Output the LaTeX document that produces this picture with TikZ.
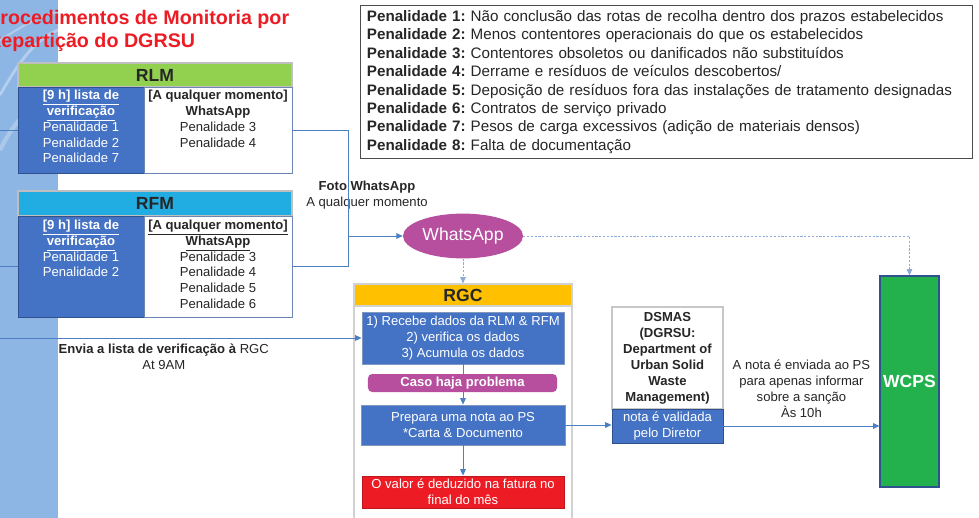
\documentclass[tikz,border=0pt]{standalone}
\usepackage{fontspec}
\setmainfont{Liberation Sans}
\usepackage{tikz}
\usetikzlibrary{positioning, calc, arrows.meta, shapes.geometric}
\frenchspacing

\definecolor{hdrgreen}{RGB}{146,208,80}
\definecolor{hdrcyan}{RGB}{33,172,226}
\definecolor{cellblue}{RGB}{68,114,196}
\definecolor{celledge}{RGB}{47,82,143}
\definecolor{waviolet}{RGB}{183,78,158}
\definecolor{rgcyellow}{RGB}{255,192,0}
\definecolor{valred}{RGB}{237,28,36}
\definecolor{wcpsgreen}{RGB}{34,177,76}
\definecolor{titlered}{RGB}{237,28,36}
\definecolor{linkblue}{RGB}{76,127,196}
\definecolor{stripblue}{RGB}{141,182,228}

\begin{document}
\begin{tikzpicture}[
        x=0.025cm, y=-0.025cm,
        every node/.style={font=\fontsize{9.3}{11.2}\selectfont, inner sep=1pt, text=black!85},
        header/.style={rectangle, draw=black!25, line width=0.8pt, minimum width=6.85cm, font=\bfseries\fontsize{12.5}{14}\selectfont},
        bluecell/.style={rectangle, draw=celledge, fill=cellblue, line width=0.6pt, text=white, align=center},
        whitecell/.style={rectangle, draw=celledge!70, fill=white, line width=0.6pt},
        celltext/.style={align=center},
        proc/.style={rectangle, draw=celledge!60, fill=cellblue, line width=0.6pt, text=white, align=center, minimum width=5.05cm},
        link/.style={draw=linkblue, line width=0.6pt},
        arrow/.style={link, -{Triangle[length=4.5pt, width=4pt]}},
        dotarrow/.style={arrow, draw=linkblue!65, dash pattern=on 1.5pt off 1.2pt}
    ]
        \useasboundingbox (0,0) rectangle (979,518);
        \clip (0,0) rectangle (979,518);

        \fill[stripblue] (0,0) rectangle (58,518);
        \draw[white, opacity=0.35, line width=2pt] (0,95) .. controls (20,60) and (35,40) .. (58,30);
        \draw[white, opacity=0.25, line width=3pt] (0,150) .. controls (15,120) and (30,105) .. (58,95);
        \draw[white, opacity=0.3, line width=1.5pt] (0,40) .. controls (25,25) and (40,15) .. (58,12);

        \node[anchor=north west, align=left, inner sep=0pt, text=titlered, font=\bfseries\fontsize{14}{16.4}\selectfont] (title) at (-13,9.5) {Procedimentos de Monitoria por\\Repartição do DGRSU};

        \node[header, fill=hdrgreen, minimum height=0.6cm] (rlm) at (155,75) {RLM};
        \node[bluecell, minimum width=3.15cm, minimum height=2.15cm] (rlmL) at (81,130) {};
        \node[whitecell, minimum width=3.7cm, minimum height=2.15cm] (rlmR) at (218,130) {};
        \node[celltext, text=white, below=1.5pt of rlmL.north] (rlmLtxt) {\textbf{\underline{[9 h] lista de}}\\\textbf{\underline{verificação}}\\Penalidade 1\\Penalidade 2\\Penalidade 7};
        \node[celltext, below=1.5pt of rlmR.north] (rlmRtxt) {\textbf{[A qualquer momento]}\\\textbf{WhatsApp}\\Penalidade 3\\Penalidade 4};

        \node[header, fill=hdrcyan, minimum height=0.625cm] (rfm) at (155,203.5) {RFM};
        \node[bluecell, minimum width=3.15cm, minimum height=2.525cm] (rfmL) at (81,266.5) {};
        \node[whitecell, minimum width=3.7cm, minimum height=2.525cm] (rfmR) at (218,266.5) {};
        \node[celltext, text=white, below=2pt of rfmL.north] (rfmLtxt) {\textbf{\underline{[9 h] lista de}}\\\textbf{\underline{verificação}}\\Penalidade 1\\Penalidade 2};
        \node[celltext, below=2pt of rfmR.north] (rfmRtxt) {\textbf{\underline{[A qualquer momento]}}\\\textbf{\underline{WhatsApp}}\\Penalidade 3\\Penalidade 4\\Penalidade 5\\Penalidade 6};

        \node[rectangle, draw=black!70, line width=0.7pt, fill=white, minimum width=15.275cm, minimum height=3.8cm, inner xsep=0.15cm, text width=14.975cm, align=left, font=\fontsize{10.8}{13.1}\selectfont] (pen) at (666.5,82) {\textbf{Penalidade 1:} Não conclusão das rotas de recolha dentro dos prazos estabelecidos\\
            \textbf{Penalidade 2:} Menos contentores operacionais do que os estabelecidos\\
            \textbf{Penalidade 3:} Contentores obsoletos ou danificados não substituídos\\
            \textbf{Penalidade 4:} Derrame e resíduos de veículos descobertos/\\
            \textbf{Penalidade 5:} Deposição de resíduos fora das instalações de tratamento designadas\\
            \textbf{Penalidade 6:} Contratos de serviço privado\\
            \textbf{Penalidade 7:} Pesos de carga excessivos (adição de materiais densos)\\
            \textbf{Penalidade 8:} Falta de documentação};

        \node[align=center] (fotolbl) at (367,195) {\textbf{Foto WhatsApp}\\A qualquer momento};
        \node[ellipse, fill=waviolet, minimum width=3cm, minimum height=1.12cm, text=white, font=\fontsize{12.5}{14}\selectfont] (wa) at (463,236) {WhatsApp};

        \node[rectangle, draw=black!18, line width=1pt, fill=white, minimum width=5.45cm, minimum height=5.6cm] (rgc) at (463,418) {};
        \node[header, fill=rgcyellow, draw=black!18, minimum width=5.45cm, minimum height=0.55cm] (rgchd) at (463,295) {RGC};
        \node[proc, minimum height=1.3cm] (recebe) at (463,338) {1) Recebe dados da RLM \& RFM\\2) verifica os dados\\3) Acumula os dados};
        \node[proc, minimum width=5.1cm, minimum height=1cm] (prepara) at (463,425) {Prepara uma nota ao PS\\*Carta \& Documento};
        \node[proc, fill=valred, draw=valred!80!black, minimum height=0.8cm] (valor) at (463,492) {O valor é deduzido na fatura no\\final do mês};
        \draw[arrow] (recebe.south) -- (prepara.north);
        \node[rectangle, rounded corners=3pt, fill=waviolet, minimum width=4.725cm, minimum height=0.45cm, text=white, font=\bfseries\fontsize{9.3}{11.2}\selectfont] (caso) at (462.5,383) {Caso haja problema};
        \draw[arrow] (prepara.south) -- (valor.north);

        \node[rectangle, draw=black!22, line width=0.8pt, fill=white, minimum width=2.775cm, minimum height=2.55cm, align=center, font=\bfseries\fontsize{9.3}{11.4}\selectfont] (dsmas) at (667.5,358) {DSMAS\\(DGRSU:\\Department of\\Urban Solid\\Waste\\Management)};
        \node[bluecell, minimum width=2.775cm, minimum height=0.85cm] (dsval) at (667.5,426) {nota é validada\\pelo Diretor};

        \node[rectangle, draw=celledge, line width=0.8pt, fill=wcpsgreen, minimum width=1.475cm, minimum height=5.275cm, text=white, font=\bfseries\fontsize{12.5}{14}\selectfont] (wcps) at (909.5,381.5) {WCPS};

        \coordinate (in1) at (0,130);
        \coordinate (in2) at (0,266.5);
        \coordinate (in3) at (0,338);
        \coordinate (jn) at (348,236);

        \draw[link] (in1) -- (rlmL.west);
        \draw[link] (in2) -- (rfmL.west);
        \draw[link] (rlmR.east) -| (jn);
        \draw[link] (rfmR.east) -| (jn);
        \draw[arrow] (jn) -- (wa.west);
        \draw[arrow] (in3) -- node[pos=0.453, below=3pt, align=center] {\textbf{Envia a lista de verificação à} RGC\\At 9AM} (recebe.west);
        \draw[dotarrow] (wa.south) -- (rgchd.north);
        \draw[dotarrow] (wa.east) -| (wcps.north);
        \draw[arrow] (prepara.east) -- (prepara.east -| dsval.west);
        \draw[arrow] (dsval.east) -- node[above=5pt, align=center] {A nota é enviada ao PS\\para apenas informar\\sobre a sanção\\Às 10h} (dsval.east -| wcps.west);
    \end{tikzpicture}
\end{document}
